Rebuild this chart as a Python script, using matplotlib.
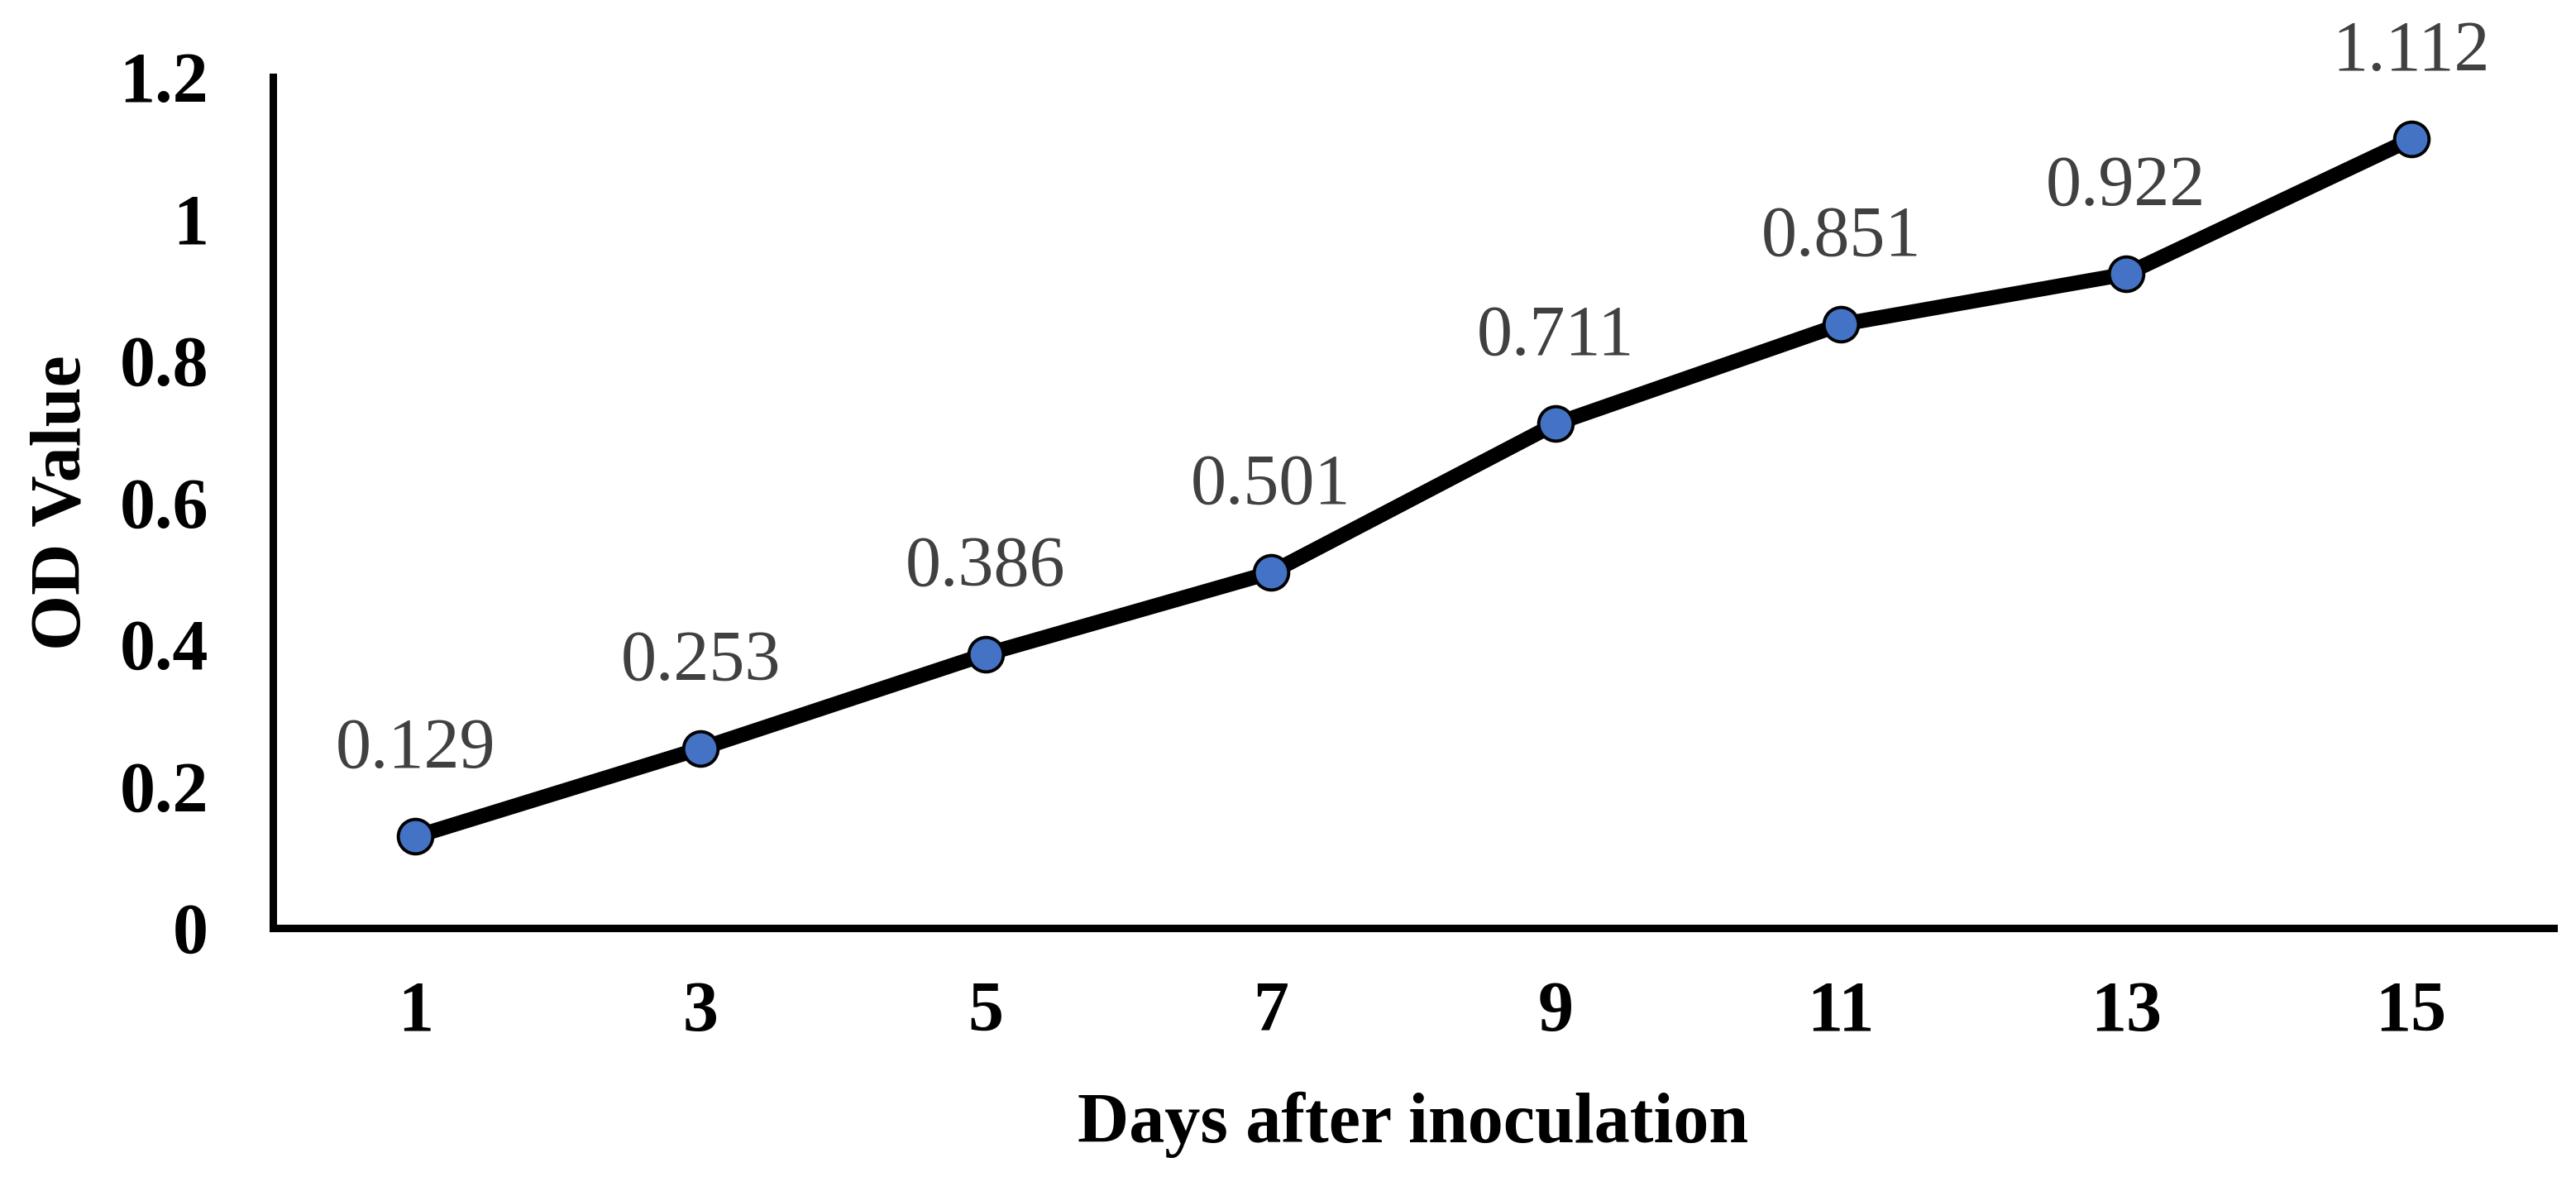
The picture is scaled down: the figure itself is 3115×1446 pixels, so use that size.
import numpy as np
import matplotlib
matplotlib.use('Agg')
import matplotlib.pyplot as plt

# Datos
dias = [1, 3, 5, 7, 9, 11, 13, 15]
od_valor = [0.129, 0.253, 0.386, 0.501, 0.711, 0.851, 0.922, 1.112]
yticks = [0, 0.2, 0.4, 0.6, 0.8, 1, 1.2]
ytick_labels = ['0', '0.2', '0.4', '0.6', '0.8', '1', '1.2']

plt.rcParams['font.family'] = ['Liberation Serif', 'DejaVu Serif']

fig = plt.figure(figsize=(31.15, 14.46), dpi=100)
ax = fig.add_axes([330/3115, 1 - 1122/1446, (3088-330)/3115, (1122-93)/1446])

ax.plot(dias, od_valor, '-', color='black', linewidth=13, solid_capstyle='round',
        solid_joinstyle='round', zorder=2)
ax.plot(dias, od_valor, 'o', markersize=30, markerfacecolor='#4472C4',
        markeredgecolor='black', markeredgewidth=2.8, zorder=3)

for d, v in zip(dias, od_valor):
    ax.annotate(f'{v:.3f}', (d, v), xytext=(0, 60), textcoords='offset points',
                ha='center', va='baseline', fontsize=62, color='#404040')

ax.set_xlim(0, 16)
ax.set_ylim(0, 1.2)
ax.set_xticks(dias)
ax.set_xticklabels([str(d) for d in dias])
ax.set_yticks(yticks)
ax.set_yticklabels(ytick_labels)

for lab in ax.get_xticklabels() + ax.get_yticklabels():
    lab.set_fontweight('bold')
    lab.set_fontsize(62)

ax.tick_params(axis='both', length=0)
ax.tick_params(axis='y', pad=56)
ax.tick_params(axis='x', pad=46)

for s in ['top', 'right']:
    ax.spines[s].set_visible(False)
for s in ['left', 'bottom']:
    ax.spines[s].set_linewidth(6.5)
    ax.spines[s].set_color('black')
    ax.spines[s].set_capstyle('projecting')

ax.set_xlabel('Days after inoculation', fontsize=62, fontweight='bold')
ax.set_ylabel('OD Value', fontsize=62, fontweight='bold')
ax.xaxis.set_label_coords(0.5, -0.192)
ax.yaxis.set_label_coords(-0.0776, 0.5)

fig.savefig('out.png', dpi=100)
